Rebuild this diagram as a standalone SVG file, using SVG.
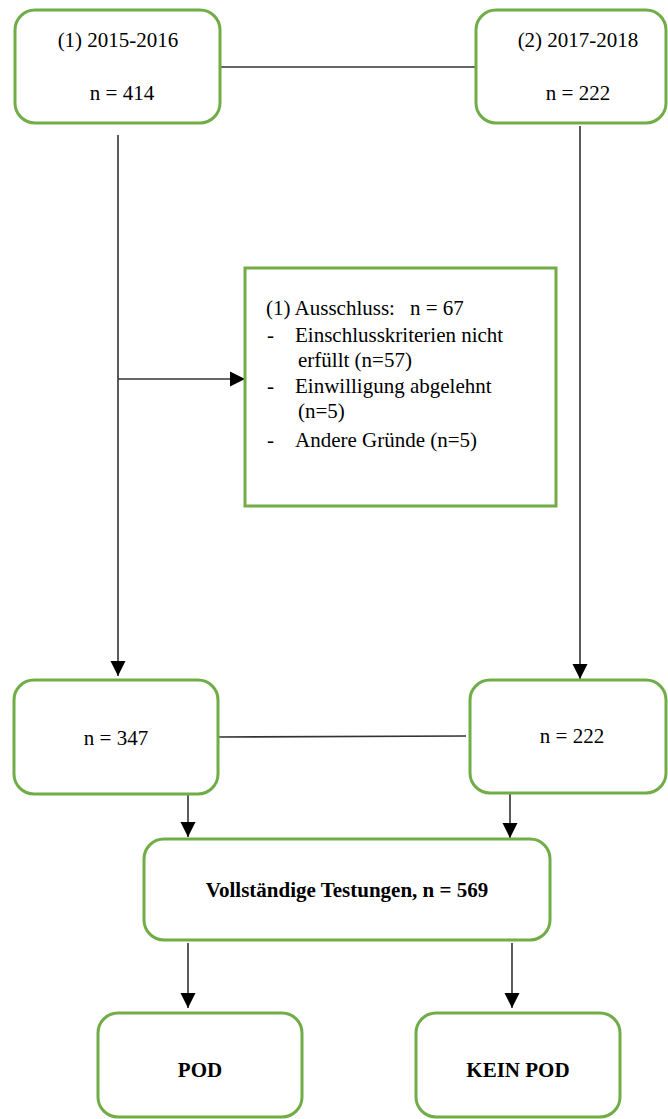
<svg xmlns="http://www.w3.org/2000/svg" width="668" height="1119" viewBox="0 0 668 1119">
<style>
.box{fill:#fff;stroke:#70AD47;stroke-width:3}
.t{font-family:"Liberation Serif","Times New Roman",serif;font-size:21px;fill:#000}
.c{text-anchor:middle}
.b{font-weight:bold}
.ln{stroke:#333;stroke-width:1.6;fill:none}
</style>
<defs>
<marker id="ah" markerUnits="userSpaceOnUse" markerWidth="16" markerHeight="16" viewBox="0 0 16 16" refX="15" refY="8" orient="auto">
<path d="M0,0.5 L15,8 L0,15.5 Z" fill="#000"/>
</marker>
</defs>
<rect width="668" height="1119" fill="#fff"/>
<g id="connectors">
<line class="ln" x1="220" y1="67" x2="476" y2="67"/>
<line class="ln" x1="118" y1="135" x2="118" y2="676" marker-end="url(#ah)"/>
<line class="ln" x1="118" y1="379" x2="245" y2="379" marker-end="url(#ah)"/>
<line class="ln" x1="580" y1="126" x2="580" y2="679" marker-end="url(#ah)"/>
<line class="ln" x1="218" y1="737" x2="466" y2="736"/>
<line class="ln" x1="188" y1="794" x2="188" y2="837" marker-end="url(#ah)"/>
<line class="ln" x1="510" y1="794" x2="510" y2="838" marker-end="url(#ah)"/>
<line class="ln" x1="188" y1="943" x2="188" y2="1008" marker-end="url(#ah)"/>
<line class="ln" x1="512" y1="943" x2="512" y2="1008" marker-end="url(#ah)"/>
</g>
<g id="n1">
<rect class="box" x="15" y="10" width="205" height="113" rx="20"/>
<text class="t c" x="118" y="47">(1) 2015-2016</text>
<text class="t c" x="122" y="100">n = 414</text>
</g>
<g id="n2">
<rect class="box" x="476" y="10" width="190" height="113" rx="20"/>
<text class="t c" x="578" y="47">(2) 2017-2018</text>
<text class="t c" x="578" y="100">n = 222</text>
</g>
<g id="n3">
<rect class="box" x="245" y="268" width="311" height="238"/>
<text class="t" x="266" y="315">(1) Ausschluss:</text>
<text class="t" x="410" y="315">n = 67</text>
<text class="t" x="267" y="342">-</text>
<text class="t" x="295" y="342">Einschlusskriterien nicht</text>
<text class="t" x="298" y="367">erfüllt (n=57)</text>
<text class="t" x="267" y="393">-</text>
<text class="t" x="295" y="393">Einwilligung abgelehnt</text>
<text class="t" x="298" y="418">(n=5)</text>
<text class="t" x="267" y="447">-</text>
<text class="t" x="295" y="447">Andere Gründe (n=5)</text>
</g>
<g id="n4">
<rect class="box" x="14" y="680" width="204" height="114" rx="20"/>
<text class="t c" x="116" y="745">n = 347</text>
</g>
<g id="n5">
<rect class="box" x="470" y="680" width="196" height="113" rx="20"/>
<text class="t c" x="572" y="743">n = 222</text>
</g>
<g id="n6">
<rect class="box" x="144" y="839" width="406" height="101" rx="20"/>
<text class="t c b" x="347" y="897">Vollständige Testungen, n = 569</text>
</g>
<g id="n7">
<rect class="box" x="98" y="1013" width="204" height="104" rx="20"/>
<text class="t c b" x="200" y="1077">POD</text>
</g>
<g id="n8">
<rect class="box" x="416" y="1013" width="204" height="104" rx="20"/>
<text class="t c b" x="518" y="1077">KEIN POD</text>
</g>
</svg>
